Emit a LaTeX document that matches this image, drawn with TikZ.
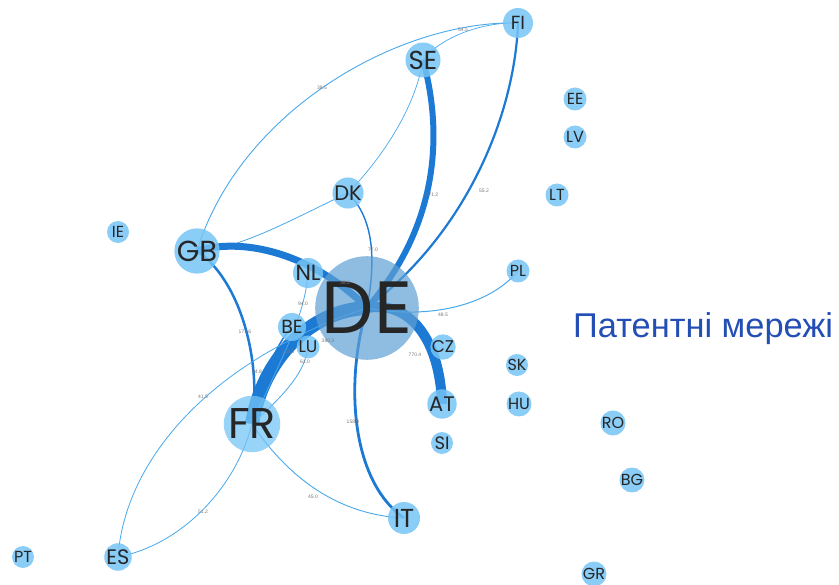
\documentclass[tikz,border=0pt]{standalone}
\usepackage{fontspec}
\setmainfont{Liberation Sans}
\newfontfamily\pop{Poppins}
\definecolor{nodeblue}{RGB}{118,196,246}
\definecolor{deblue}{RGB}{95,160,212}
\definecolor{elight}{RGB}{72,168,236}
\definecolor{edark}{RGB}{28,122,212}
\definecolor{titleblue}{RGB}{35,78,180}
\definecolor{labgray}{RGB}{120,120,120}
\pgfdeclarelayer{bg}
\pgfsetlayers{bg,main}
\tikzset{
  cn/.style 2 args={circle, fill=nodeblue, fill opacity=0.85, text opacity=1,
    inner sep=0pt, minimum size=#1, text=black!85, font=\pop\fontsize{#2}{#2}\selectfont},
  el/.style={draw=elight, line width=#1},
  ed/.style={draw=edark, line width=#1},
  wlab/.style={font=\fontsize{5}{5}\selectfont, text=labgray, inner sep=0pt},
}
\begin{document}
\begin{tikzpicture}[x=1pt,y=-1pt]
\useasboundingbox (0,0) rectangle (839,585);
% nodes
\node[cn={30}{19}] (FI) at (518,23) {FI};
\node[cn={35}{26}] (SE) at (423,60) {SE};
\node[cn={23}{16}] (EE) at (575,99) {EE};
\node[cn={23}{16}] (LV) at (575,137) {LV};
\node[cn={27}{21}] (DK) at (348,193) {DK};
\node[cn={23}{16}] (LT) at (557,195) {LT};
\node[cn={22}{16}] (IE) at (118,232) {IE};
\node[cn={42}{29}] (GB) at (197,251) {GB};
\node[cn={30}{22}] (NL) at (308,273) {NL};
\node[cn={23}{16}] (PL) at (518,271) {PL};
\node[cn={88}{74}, fill=deblue, fill opacity=0.7] (DE) at (367,308) {DE};
\node[cn={28}{19}] (BE) at (292,327) {BE};
\node[cn={23}{17}] (LU) at (308,347) {LU};
\node[cn={25}{17}] (CZ) at (443,347) {CZ};
\node[cn={22}{16}] (SK) at (517,365) {SK};
\node[cn={27}{21}] (AT) at (442,404) {AT};
\node[cn={25}{16}] (HU) at (519,404) {HU};
\node[cn={50}{43}, fill opacity=0.75] (FR) at (252,424) {FR};
\node[cn={23}{16}] (RO) at (613,423) {RO};
\node[cn={22}{18}] (SI) at (442,443) {SI};
\node[cn={23}{16}] (BG) at (632,480) {BG};
\node[cn={32}{26}] (IT) at (404,518) {IT};
\node[cn={22}{16}] (PT) at (23,557) {PT};
\node[cn={27}{21}] (ES) at (118,557) {ES};
\node[cn={25}{16}] (GR) at (594,574) {GR};
% edges
\begin{pgfonlayer}{bg}
\draw[el=0.9pt] (GB.center) .. controls (240,110) and (400,20) .. (FI.center);
\draw[el=0.7pt] (SE.center) .. controls (440,38) and (480,22) .. (FI.center);
\draw[el=0.7pt] (SE.center) .. controls (415,110) and (380,160) .. (DK.center);
\draw[ed=6pt] (SE.center) .. controls (445,140) and (435,230) .. (DE.center);
\draw[ed=2.2pt] (FI.center) .. controls (515,110) and (470,230) .. (DE.center);
\draw[el=0.8pt] (DK.center) .. controls (300,215) and (240,250) .. (GB.center);
\draw[ed=1.4pt] (DK.center) .. controls (370,215) and (378,250) .. (DE.center);
\draw[ed=2.8pt] (DE.center) .. controls (345,380) and (350,480) .. (IT.center);
\draw[ed=7pt] (GB.center) .. controls (250,235) and (320,260) .. (DE.center);
\draw[ed=2.5pt] (GB.center) .. controls (240,280) and (262,360) .. (FR.center);
\draw[ed=14pt] (FR.center) .. controls (262,360) and (310,310) .. (DE.center);
\draw[ed=10pt] (DE.center) .. controls (410,300) and (440,340) .. (AT.center);
\draw[el=0.8pt] (FR.center) .. controls (275,370) and (305,320) .. (NL.center);
\draw[ed=1.5pt] (FR.center) .. controls (262,380) and (275,345) .. (BE.center);
\draw[el=0.8pt] (FR.center) .. controls (290,390) and (305,370) .. (LU.center);
\draw[el=0.8pt] (FR.center) .. controls (235,490) and (180,545) .. (ES.center);
\draw[el=0.8pt] (ES.center) .. controls (125,460) and (210,360) .. (DE.center);
\draw[el=0.9pt] (FR.center) .. controls (290,480) and (340,515) .. (IT.center);
\draw[el=1pt] (DE.center) .. controls (430,320) and (490,305) .. (PL.center);
\end{pgfonlayer}
% edge weights
\node[wlab] (w1) at (322,88) {38.5};
\node[wlab] (w2) at (463,30) {54.5};
\node[wlab] (w3) at (432,195) {171.2};
\node[wlab] (w4) at (484,191) {55.2};
\node[wlab] (w5) at (373,250) {77.0};
\node[wlab] (w6) at (345,283) {38.2};
\node[wlab] (w7) at (303,304) {94.0};
\node[wlab] (w8) at (245,332) {171.6};
\node[wlab] (w9) at (328,341) {380.3};
\node[wlab] (w10) at (288,352) {318.5};
\node[wlab] (w11) at (305,362) {61.0};
\node[wlab] (w12) at (415,355) {770.4};
\node[wlab] (w13) at (443,315) {48.5};
\node[wlab] (w14) at (257,372) {94.8};
\node[wlab] (w15) at (203,397) {41.5};
\node[wlab] (w16) at (353,422) {158.0};
\node[wlab] (w17) at (313,497) {45.0};
\node[wlab] (w18) at (203,512) {51.2};
% title
\node[anchor=base west, inner sep=0pt, text=titleblue, font=\fontsize{34.4}{34.4}\selectfont] (title) at (573,338) {Патентні мережі};
\end{tikzpicture}
\end{document}
